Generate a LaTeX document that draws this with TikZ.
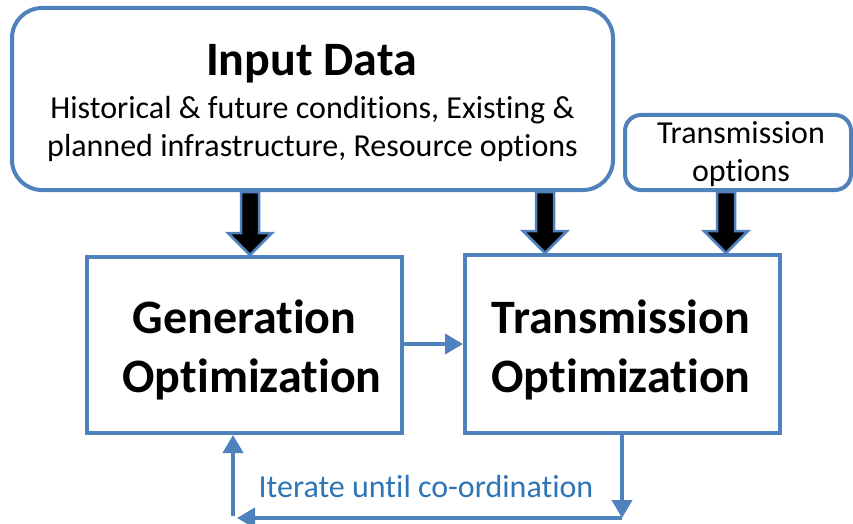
\documentclass[tikz,border=0pt]{standalone}
\usepackage{fontspec}
\setmainfont{Carlito}[Ligatures=NoCommon]
\usetikzlibrary{arrows.meta,calc}

\definecolor{frameblue}{RGB}{79,129,189}
\definecolor{loopblue}{RGB}{46,117,182}

\tikzset{
  frame/.style={draw=frameblue, line width=4pt, inner sep=0pt},
  flow/.style={draw=frameblue, line width=4pt,
    -{Triangle[length=18pt,width=20pt]}},
  bigtitle/.style={font=\fontsize{48}{58}\selectfont\bfseries, anchor=base, inner sep=0pt},
  smalltext/.style={font=\fontsize{32}{39}\selectfont, anchor=base, inner sep=0pt},
}

% thick black arrow with blue outline, from (#1) straight down to (#2)
\newcommand{\fatdown}[2]{%
  \path let \p1=(#1), \p2=(#2) in
    [draw=frameblue, fill=black, line width=2.5pt, line join=miter]
    (\x1-9pt,\y1) -- (\x1-9pt,\y2+22pt) -- (\x1-22pt,\y2+22pt) --
    (\x1,\y2) -- (\x1+22pt,\y2+22pt) -- (\x1+9pt,\y2+22pt) --
    (\x1+9pt,\y1) -- cycle;}

\begin{document}
\begin{tikzpicture}[x=1pt,y=-1pt]
\useasboundingbox (0,0) rectangle (853,524);

% boxes
\node[frame, rounded corners=30pt, minimum width=601pt, minimum height=182pt]
  (input) at (312.5,99) {};
\node[frame, rounded corners=16pt, minimum width=226pt, minimum height=75pt]
  (topt) at (738,152.5) {};
\node[frame, minimum width=315pt, minimum height=176pt] (gen) at (244.5,345) {};
\node[frame, minimum width=315pt, minimum height=178pt] (trans) at (622.5,344) {};

% texts
\node[bigtitle] (inT) at (311.5,76) {Input Data};
\node[smalltext] (inL1) at (312.5,118) {Historical \& future conditions, Existing \&};
\node[smalltext] (inL2) at (312.5,156) {planned infrastructure, Resource options};
\node[smalltext] (toL1) at (741,143) {Transmission};
\node[smalltext] (toL2) at (741,181) {options};
\node[bigtitle] (genL1) at (244.5,333) {Generation};
\node[bigtitle] (genL2) at (252,392) {Optimization};
\node[bigtitle] (trL1) at (621,333) {Transmission};
\node[bigtitle] (trL2) at (621,392) {Optimization};
\node[smalltext, text=loopblue] (iter) at (426,497) {Iterate until co-ordination};

% input arrows
\coordinate (a1s) at (input.south -| 250,0);
\coordinate (a1e) at (gen.north -| 250,0);
\coordinate (a2s) at (input.south -| 545,0);
\coordinate (a2e) at (trans.north -| 545,0);
\coordinate (a3s) at (topt.south -| 726,0);
\coordinate (a3e) at (trans.north -| 726,0);
\fatdown{a1s}{a1e}
\fatdown{a2s}{a2e}
\fatdown{a3s}{a3e}

% generation -> transmission
\draw[flow] (gen.east |- 0,344) -- (trans.west |- 0,344);

% iteration loop
\coordinate (lr) at (622,518);
\coordinate (ll) at (233,518);
\draw[flow] (trans.south -| lr) -- (lr);
\draw[flow] (lr) -- ([xshift=4pt]ll);
\draw[flow] ([yshift=2pt]ll) -- (gen.south -| ll);
\end{tikzpicture}
\end{document}
